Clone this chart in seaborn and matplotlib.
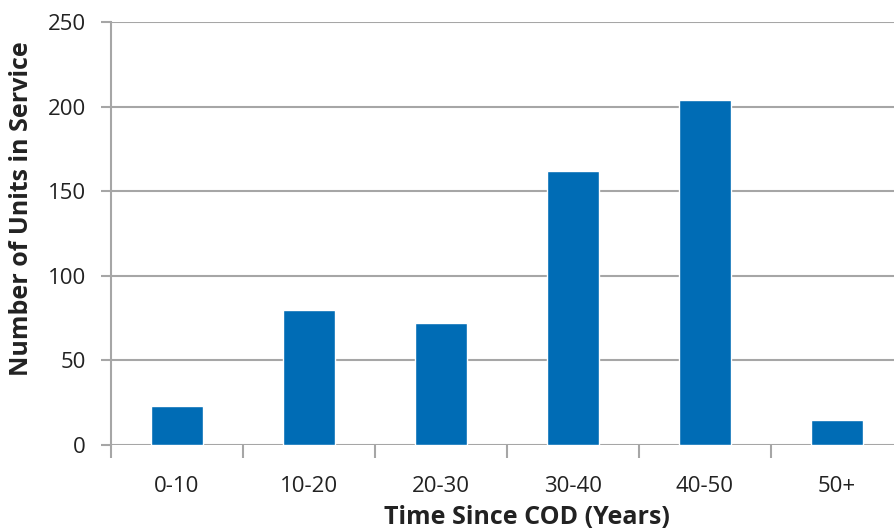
import matplotlib
matplotlib.use("Agg")
import matplotlib.pyplot as plt
import seaborn as sns
import pandas as pd

# Units in service by time since COD
categories = ["0-10", "10-20", "20-30", "30-40", "40-50", "50+"]
units = [23, 80, 72, 162, 204, 15]

df = pd.DataFrame({"age": categories, "units": units})

sns.set_style("white")
plt.rcParams["font.family"] = ["Open Sans", "DejaVu Sans"]

grid_color = "#A6A6A6"
bar_color = "#006CB5"

fig = plt.figure(figsize=(8.94, 5.29), dpi=100)
ax = fig.add_axes([111 / 894, 84 / 529, 792 / 894, 423 / 529])

sns.barplot(data=df, x="age", y="units", color=bar_color, width=0.4,
            saturation=1, ax=ax, zorder=3)

ax.set_xlim(-0.5, 5.5)
ax.set_ylim(0, 250)
ax.set_yticks([0, 50, 100, 150, 200, 250])
ax.yaxis.grid(True, color=grid_color, lw=1.5, zorder=0)
ax.set_axisbelow(True)

for s in ["top", "right", "bottom"]:
    ax.spines[s].set_visible(False)
ax.spines["left"].set_color(grid_color)
ax.spines["left"].set_linewidth(1.5)

# category separators as minor ticks
ax.set_xticks([i - 0.5 for i in range(len(categories) + 1)], minor=True)
ax.tick_params(axis="x", which="minor", length=9, width=1.5, color=grid_color,
               direction="out", bottom=True)
ax.tick_params(axis="x", which="major", length=0, pad=22, labelsize=16,
               labelcolor="#222222")
ax.tick_params(axis="y", length=7, width=1.5, color=grid_color, left=True,
               direction="out", pad=11, labelsize=16, labelcolor="#222222")

ax.set_xlabel("Time Since COD (Years)", fontsize=18, fontweight="bold",
              color="#222222")
ax.set_ylabel("Number of Units in Service", fontsize=18, fontweight="bold",
              color="#222222")
ax.xaxis.set_label_coords(0.525, -0.142)
ax.yaxis.set_label_coords(-0.097, 0.558)

fig.savefig("out.png", dpi=100)
